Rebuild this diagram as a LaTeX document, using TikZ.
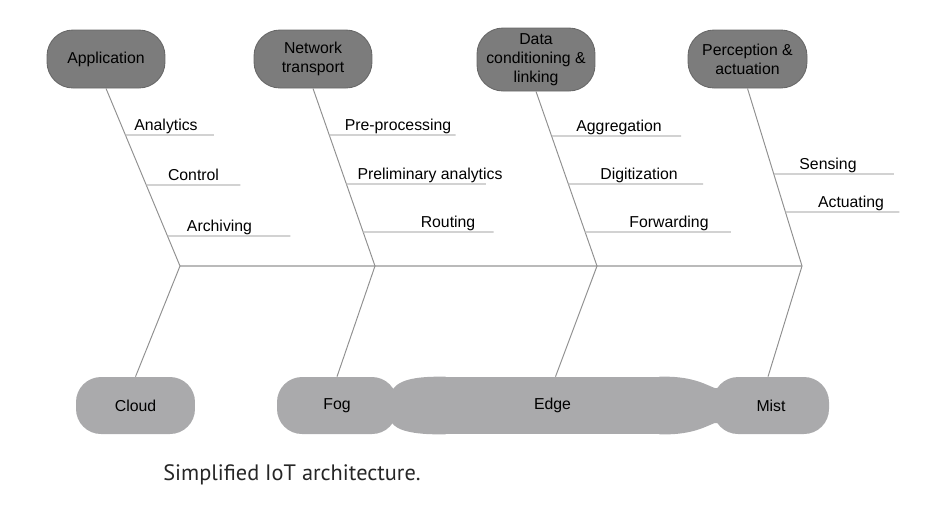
\documentclass[tikz,border=0pt]{standalone}
\usepackage{fontspec}
\setmainfont{Liberation Sans}
\newfontfamily\capfont{PT Sans}
\usetikzlibrary{positioning,calc}

\definecolor{topgray}{HTML}{7C7C7C}
\definecolor{topline}{HTML}{686868}
\definecolor{lowgray}{HTML}{AAAAAC}
\definecolor{bonegray}{HTML}{909090}
\definecolor{ribgray}{HTML}{BABABA}

\begin{document}
\begin{tikzpicture}[
    x=0.02cm, y=-0.02cm,
    layer/.style={rectangle, rounded corners=0.52cm, fill=topgray, draw=topline, line width=0.5pt,
        minimum width=2.36cm, minimum height=1.16cm, inner sep=0pt, align=center,
        font=\fontsize{9}{10.8}\selectfont},
    tier/.style={rectangle, rounded corners=0.5cm, fill=lowgray,
        minimum width=2.36cm, minimum height=1.14cm, inner sep=0pt,
        font=\fontsize{9}{10.8}\selectfont},
    lbl/.style={anchor=south, inner xsep=0pt, inner ysep=2.3pt, text depth=0pt,
        font=\fontsize{9}{10.8}\selectfont},
    bone/.style={draw=bonegray, line width=0.55pt},
    spine/.style={draw=ribgray, line width=0.9pt},
    rib/.style={draw=ribgray, line width=0.6pt},
]
    \useasboundingbox (0,0) rectangle (932,512);

    % layers on top
    \node[layer] (app) at (106,59) {Application};
    \node[layer] (net) at (313,59) {Network\\transport};
    \node[layer, minimum height=1.26cm] (data) at (536,59.5) {Data\\conditioning \&\\linking};
    \node[layer, minimum width=2.38cm] (per) at (747.5,59) {Perception \&\\actuation};

    % tiers at the bottom
    \node[tier, minimum width=2.38cm] (cloud) at (135.5,405.5) {Cloud};
    \node[tier, minimum width=2.4cm] (fog) at (337,405.5) {Fog};
    \node[tier, minimum width=4.5cm, rounded corners=0pt] (edge) at (552.5,405.5) {Edge};
    \node[tier, minimum width=2.32cm] (mist) at (771,405.5) {Mist};

    % necks joining fog, edge and mist (they run a little into both ends)
    \fill[lowgray] ($(fog.east)+(-10,-13.5)$) -- ($(fog.east)+(-6,-13.5)$)
        .. controls +(5,-12) and +(-25,0) .. (edge.north west) -- ++(6,0)
        -- ($(edge.south west)+(6,0)$) -- (edge.south west)
        .. controls +(-25,0) and +(5,9) .. ($(fog.east)+(-6,16.5)$) -- ++(-4,0) -- cycle;
    \fill[lowgray] ($(edge.north east)+(-6,0)$) -- (edge.north east)
        .. controls +(28,0) and +(-8,-3) .. ($(mist.west)+(2,-17.5)$) -- ++(6,0)
        -- ($(mist.west)+(8,17.5)$) -- ($(mist.west)+(2,17.5)$)
        .. controls +(-8,3) and +(28,0) .. (edge.south east) -- ++(-6,0) -- cycle;

    % joints on the spine
    \coordinate (j1) at (180,266);
    \coordinate (j2) at (375,266);
    \coordinate (j3) at (597,266);
    \coordinate (j4) at (802,266);

    \draw[spine] (j1) -- (j4);
    \draw[bone] (app.south) -- (j1) -- (cloud.north);
    \draw[bone] (net.south) -- (j2) -- (fog.north);
    \draw[bone] (data.south) -- (j3) -- ($(edge.north)+(3,0)$);
    \draw[bone] (per.south) -- (j4) -- ($(mist.north)+(-3,0)$);

    % ribs of the application layer
    \node[lbl] (analytics) at (166,135) {Analytics};
    \node[lbl] (control) at (193.5,185) {Control};
    \node[lbl] (archiving) at (219.5,236) {Archiving};
    \draw[rib] (intersection of app.south--j1 and analytics.south west--analytics.south east)
        -- ($(analytics.south east)+(16,0)$);
    \draw[rib] (intersection of app.south--j1 and control.south west--control.south east)
        -- ($(control.south east)+(21,0)$);
    \draw[rib] (intersection of app.south--j1 and archiving.south west--archiving.south east)
        -- ($(archiving.south east)+(38,0)$);

    % ribs of the network layer
    \node[lbl] (preproc) at (398,135) {Pre-processing};
    \node[lbl] (prelim) at (430,184) {Preliminary analytics};
    \node[lbl] (routing) at (448,232) {Routing};
    \draw[rib] (intersection of net.south--j2 and preproc.south west--preproc.south east)
        -- ($(preproc.south east)+(4,0)$);
    \draw[rib] (intersection of net.south--j2 and prelim.south west--prelim.south east)
        -- ($(prelim.south east)+(-17,0)$);
    \draw[rib] (intersection of net.south--j2 and routing.south west--routing.south east)
        -- ($(routing.south east)+(18,0)$);

    % ribs of the data layer
    \node[lbl] (aggreg) at (619,136) {Aggregation};
    \node[lbl] (digit) at (639,184) {Digitization};
    \node[lbl] (forward) at (669,232) {Forwarding};
    \draw[rib] (intersection of data.south--j3 and aggreg.south west--aggreg.south east)
        -- ($(aggreg.south east)+(19,0)$);
    \draw[rib] (intersection of data.south--j3 and digit.south west--digit.south east)
        -- ($(digit.south east)+(25,0)$);
    \draw[rib] (intersection of data.south--j3 and forward.south west--forward.south east)
        -- ($(forward.south east)+(22,0)$);

    % ribs of the perception layer
    \node[lbl] (sensing) at (828,174) {Sensing};
    \node[lbl] (actuating) at (851,212) {Actuating};
    \draw[rib] (intersection of per.south--j4 and sensing.south west--sensing.south east)
        -- ($(sensing.south east)+(37,0)$);
    \draw[rib] (intersection of per.south--j4 and actuating.south west--actuating.south east)
        -- ($(actuating.south east)+(15,0)$);

    \node[anchor=base west, inner sep=0pt, font=\capfont\fontsize{12.7}{15}\selectfont, text=black!85]
        (caption) at (163,480) {Simplified IoT architecture.};
\end{tikzpicture}
\end{document}
